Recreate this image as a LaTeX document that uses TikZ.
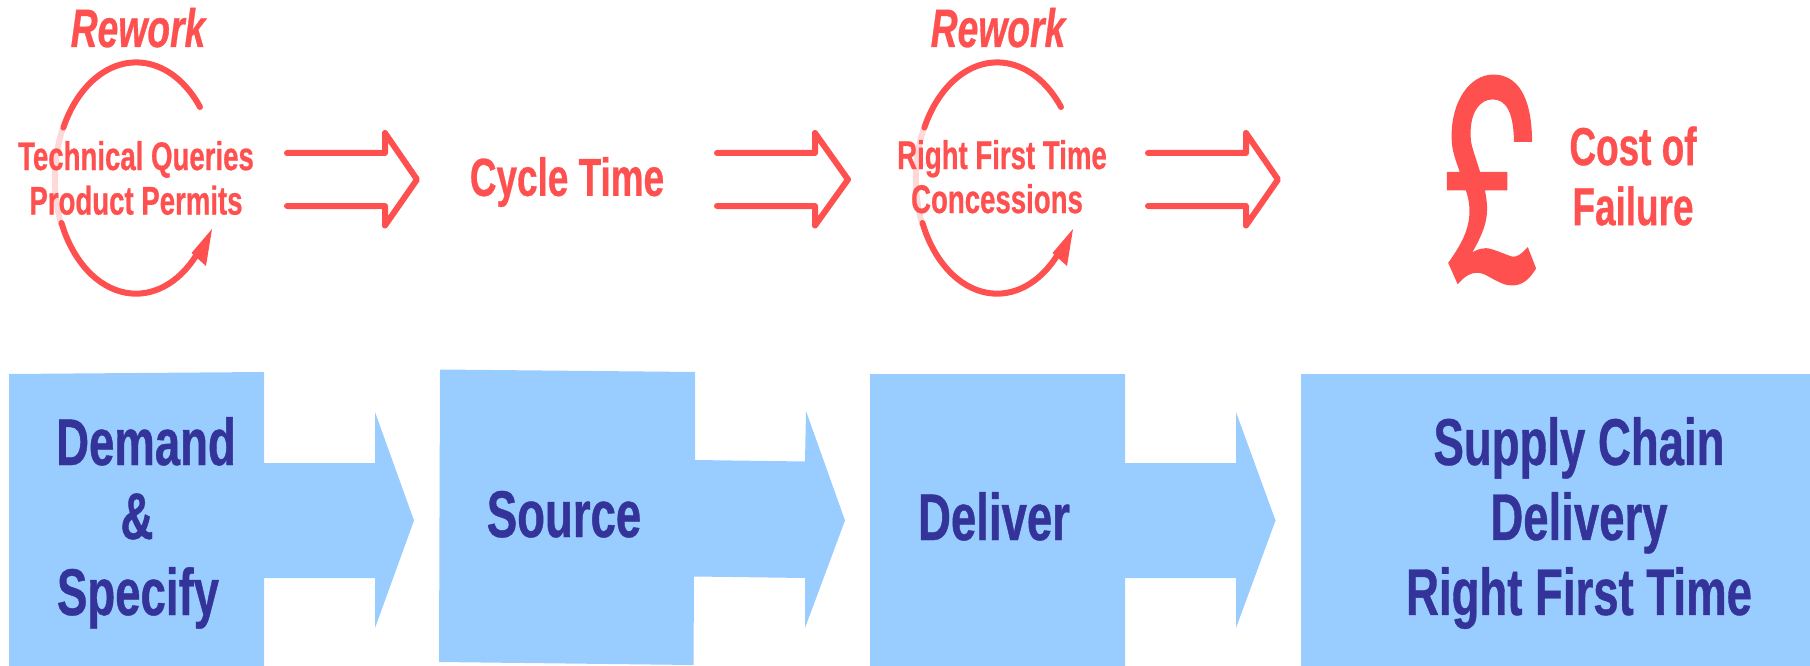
\documentclass[tikz,border=0pt]{standalone}
\usepackage{fontspec}
\newfontfamily\narrowfont[FakeStretch=0.69, FakeBold=0.6]{Liberation Sans}
\newfontfamily\poundfont[FakeStretch=0.61, FakeBold=1.2]{TeX Gyre Heros}
\definecolor{coral}{HTML}{FF5050}
\definecolor{palecoral}{HTML}{FFD9D9}
\definecolor{skyblue}{HTML}{99CCFF}
\definecolor{navyblue}{HTML}{333399}
\tikzset{
    redlabel/.style={text=coral, align=center, font=\narrowfont\bfseries\fontsize{40}{44.5}\selectfont},
    reworklabel/.style={text=coral, font=\narrowfont\bfseries\itshape\fontsize{54}{60}\selectfont},
    costlabel/.style={text=coral, align=center, font=\narrowfont\bfseries\fontsize{53.5}{60}\selectfont},
    bluelabel/.style={text=navyblue, align=center, font=\narrowfont\bfseries\fontsize{66}{75}\selectfont},
    hollowarrow/.style={draw=coral, line width=6pt, line join=round, line cap=round},
    reworkline/.style={draw=coral, line width=6pt, line cap=round},
    paleline/.style={draw=palecoral, line width=6pt},
    blockarrow/.style={fill=skyblue}
}
\begin{document}
\begin{tikzpicture}[x=1pt, y=1pt, every node/.style={inner sep=0pt}]
    \useasboundingbox (0,0) rectangle (1810,-666);

    \fill[blockarrow] (9,-374) -- (264,-372) -- (264,-463) -- (375,-463) -- (375,-412) -- (414,-520.5) -- (375,-628) -- (375,-578) -- (264,-578) -- (264,-666) -- (9,-666) -- cycle;
    \fill[blockarrow] (440,-369.5) -- (695,-372) -- (695,-460) -- (805,-461.5) -- (806,-411) -- (845,-520.5) -- (805,-628) -- (805,-578) -- (694,-576.5) -- (693.5,-665) -- (439,-662) -- cycle;
    \fill[blockarrow] (870,-374) -- (1125,-374) -- (1125,-463) -- (1236,-463) -- (1236,-412) -- (1275.5,-520.5) -- (1236,-628) -- (1236,-578) -- (1125,-578) -- (1125,-666) -- (870,-666) -- cycle;
    \fill[blockarrow] (1301,-374) rectangle (1810,-666);

    \draw[hollowarrow] (287,-153) -- (385,-153) -- (385,-133) -- (417,-179.5) -- (385,-225.5) -- (385,-206) -- (287,-206);
    \draw[hollowarrow] (717,-153) -- (815,-153) -- (815,-133) -- (848,-179.5) -- (815,-225.5) -- (815,-206) -- (717,-206);
    \draw[hollowarrow] (1148,-153) -- (1246,-153) -- (1246,-133) -- (1278,-179.5) -- (1246,-225.5) -- (1246,-206) -- (1148,-206);

    \coordinate (loopA) at (200,-107);
    \coordinate (loopApale) at (63,-128);
    \coordinate (loopAlow) at (61.5,-223);
    \coordinate (tipA) at (212,-229);
    \coordinate (baseAl) at (191.5,-253);
    \coordinate (baseAr) at (206,-266);
    \draw[paleline] (loopApale) arc[start angle=154, end angle=203, x radius=81, y radius=116];
    \draw[reworkline] (loopA) arc[start angle=38, end angle=154, x radius=81, y radius=116];
    \draw[reworkline] (loopAlow) arc[start angle=203, end angle=318, x radius=81, y radius=116];
    \fill[coral] (tipA) -- (baseAl) -- (baseAr) -- cycle;

    \coordinate (loopB) at (1061,-107);
    \coordinate (loopBpale) at (924,-128);
    \coordinate (loopBlow) at (922.5,-223);
    \coordinate (tipB) at (1073,-229);
    \coordinate (baseBl) at (1052.5,-253);
    \coordinate (baseBr) at (1067,-266);
    \draw[paleline] (loopBpale) arc[start angle=154, end angle=203, x radius=81, y radius=116];
    \draw[reworkline] (loopB) arc[start angle=38, end angle=154, x radius=81, y radius=116];
    \draw[reworkline] (loopBlow) arc[start angle=203, end angle=318, x radius=81, y radius=116];
    \fill[coral] (tipB) -- (baseBl) -- (baseBr) -- cycle;

    \node[reworklabel, anchor=base] (reworkA) at (138,-47) {Rework};
    \node[reworklabel, anchor=base] (reworkB) at (998,-47) {Rework};
    \node[redlabel] (queries) at (136,-178) {Technical Queries\\Product Permits};
    \node[redlabel] (cycle) at (567,-182) {\fontsize{53.5}{60}\selectfont Cycle Time};
    \node[redlabel, anchor=base] (firsttime) at (1002,-169) {Right First Time};
    \node[redlabel, anchor=base] (concessions) at (997,-213) {Concessions};
    \node[text=coral, font=\poundfont\fontsize{276}{276}\selectfont] (pound) at (1491,-180) {£};
    \node[costlabel] (cost) at (1633,-176) {Cost of\\Failure};

    \node[bluelabel, anchor=base] (demand) at (146,-465) {Demand};
    \node[bluelabel, anchor=base] (and) at (137,-539) {\&};
    \node[bluelabel, anchor=base] (specify) at (138,-615) {Specify};
    \node[bluelabel, anchor=base] (source) at (564,-537) {Source};
    \node[bluelabel, anchor=base] (deliver) at (994,-540) {Deliver};
    \node[bluelabel] (delivery) at (1579,-523) {Supply Chain\\Delivery\\Right First Time};
\end{tikzpicture}
\end{document}
